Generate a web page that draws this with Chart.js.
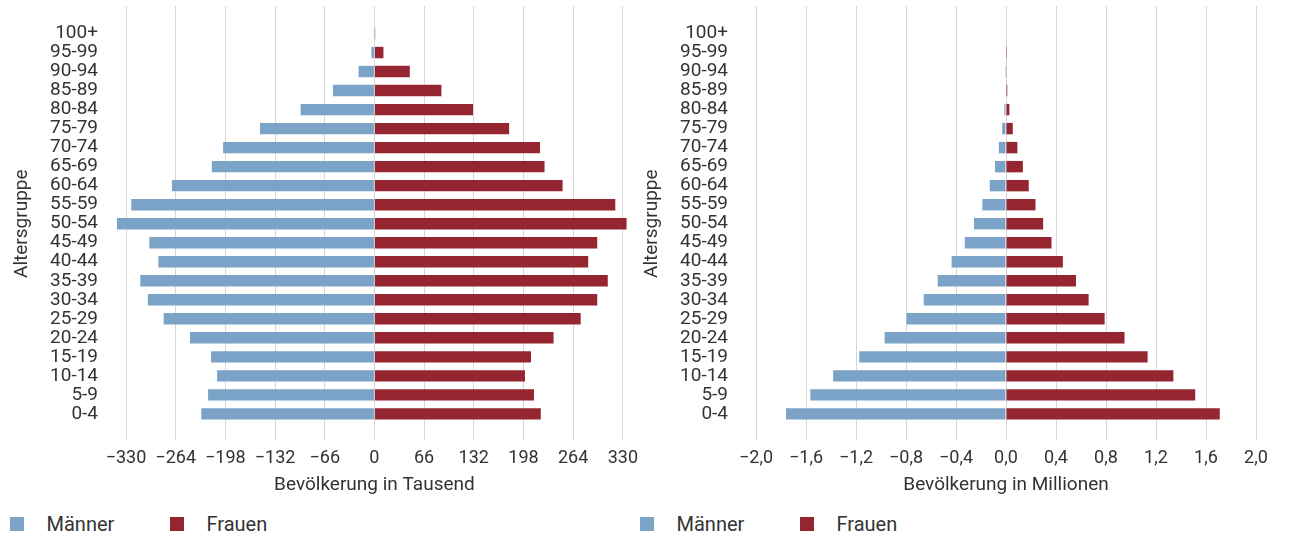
<!DOCTYPE html>
<html lang="de">
<head>
<meta charset="utf-8">
<script src="https://cdn.jsdelivr.net/npm/chart.js@4.4.1/dist/chart.umd.min.js"></script>
<style>
  body { margin: 0; width: 1289px; height: 538px; background: #fff; position: relative; overflow: hidden; font-family: Roboto, sans-serif; }
  .box { position: absolute; top: 0; height: 499px; }
  #leftBox { left: 0; width: 645px; }
  #rightBox { left: 630px; width: 659px; }
  .legend { position: absolute; top: 514px; font-size: 20px; line-height: 20px; color: #333; white-space: nowrap; }
  .legend .item { position: relative; display: inline-block; width: 160px; padding-left: 37px; box-sizing: border-box; }
  .legend .sw { position: absolute; left: 0; top: 3px; width: 14px; height: 14px; }
</style>
</head>
<body>
<div class="box" id="leftBox"><canvas id="left"></canvas></div>
<div class="box" id="rightBox"><canvas id="right"></canvas></div>
<div class="legend" id="legLeft" style="left:9.5px"></div>
<div class="legend" id="legRight" style="left:639.5px"></div>
<script>
// age groups, bottom to top
const ageGroups = ['0-4', '5-9', '10-14', '15-19', '20-24', '25-29', '30-34', '35-39', '40-44', '45-49',
  '50-54', '55-59', '60-64', '65-69', '70-74', '75-79', '80-84', '85-89', '90-94', '95-99', '100+'];

// left chart, thousands (men drawn to the left)
const menThousands = [-230, -221, -209, -217, -245, -280, -301, -311, -287, -299,
  -342, -323, -269, -216, -201, -152, -98, -55, -21, -4, -0.5];
const womenThousands = [221, 212, 200, 208, 238, 274, 296, 310, 284, 296,
  335, 320, 250, 226, 220, 179, 131, 89, 47, 12, 1];

// right chart, millions
const menMillions = [-1.76, -1.565, -1.383, -1.174, -0.971, -0.796, -0.658, -0.546, -0.435, -0.33,
  -0.256, -0.189, -0.13, -0.088, -0.057, -0.03, -0.013, -0.004, -0.001, 0, 0];
const womenMillions = [1.71, 1.514, 1.339, 1.133, 0.948, 0.789, 0.661, 0.56, 0.455, 0.364,
  0.297, 0.236, 0.182, 0.135, 0.091, 0.054, 0.027, 0.01, 0.003, 0.001, 0];

const seriesNames = ['Männer', 'Frauen'];
const seriesColors = ['#7ba3c8', '#952530'];

const thousandTicks = { min: -330, max: 330, step: 66 };
const millionTicks = { min: -2, max: 2, step: 0.4 };

Chart.defaults.font.family = 'Roboto, sans-serif';
Chart.defaults.font.size = 18;
Chart.defaults.color = '#333';

const gridColor = '#d6d6d6';

function makePyramid(id, men, women, range, fmt, xTitle, padRight) {
  const ctx = document.getElementById(id).getContext('2d');
  return new Chart(ctx, {
    type: 'bar',
    data: {
      labels: ageGroups,
      datasets: [
        { label: seriesNames[0], data: men, backgroundColor: seriesColors[0], clip: false },
        { label: seriesNames[1], data: women, backgroundColor: seriesColors[1], clip: false }
      ]
    },
    options: {
      indexAxis: 'y',
      responsive: true,
      maintainAspectRatio: false,
      animation: false,
      barPercentage: 0.6,
      categoryPercentage: 1,
      layout: { padding: { top: 6, right: padRight, bottom: 0, left: 0 } },
      plugins: { legend: { display: false }, tooltip: { enabled: false } },
      scales: {
        x: {
          stacked: true,
          min: range.min, max: range.max,
          ticks: { stepSize: range.step, padding: 7, callback: fmt, maxRotation: 0, autoSkip: false },
          grid: { color: gridColor, tickLength: 17, tickColor: gridColor },
          border: { display: false },
          title: { display: true, text: xTitle, font: { size: 19, lineHeight: 1 }, padding: { top: 0, bottom: 4 } }
        },
        x2: {
          position: 'top',
          min: range.min, max: range.max,
          ticks: { stepSize: range.step, display: false },
          grid: { color: gridColor, tickLength: 18, tickColor: gridColor, drawOnChartArea: false },
          border: { display: false }
        },
        y: {
          stacked: true,
          reverse: true,
          grid: { display: false, drawTicks: true, tickLength: 28 },
          border: { display: false },
          ticks: { padding: 0, autoSkip: false, font: { size: 19 } },
          title: { display: true, text: 'Altersgruppe', font: { size: 19 }, padding: { top: 11, bottom: 4 } },
          afterFit: (scale) => { scale.width = 126; }
        }
      }
    }
  });
}

makePyramid('left', menThousands, womenThousands, thousandTicks,
  (v) => String(v).replace('-', '\u2212'), 'Bevölkerung in Tausend', 21);
makePyramid('right', menMillions, womenMillions, millionTicks,
  (v) => Number(v).toFixed(1).replace('.', ',').replace('-', '\u2212'), 'Bevölkerung in Millionen', 33);

['legLeft', 'legRight'].forEach((id) => {
  const el = document.getElementById(id);
  seriesNames.forEach((name, i) => {
    const item = document.createElement('span');
    item.className = 'item';
    item.innerHTML = '<span class="sw" style="background:' + seriesColors[i] + '"></span>' + name;
    el.appendChild(item);
  });
});
</script>
</body>
</html>
